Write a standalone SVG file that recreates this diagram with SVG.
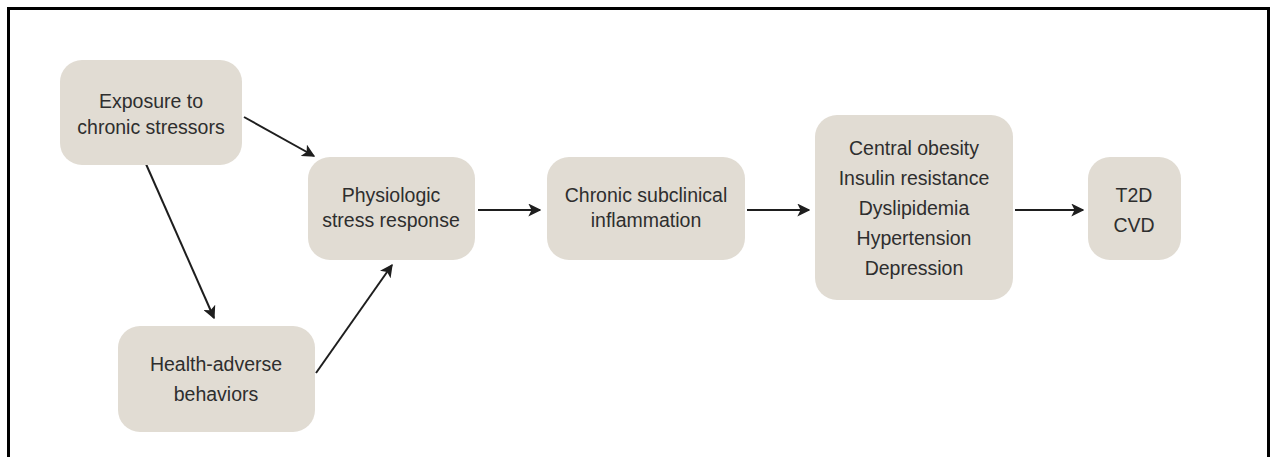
<svg xmlns="http://www.w3.org/2000/svg" width="1272" height="457" viewBox="0 0 1272 457">
<defs>
<style>
.node{fill:#e1dcd3;}
.lbl{font-family:"Liberation Sans",Arial,sans-serif;font-size:19.5px;fill:#2e2e2e;text-anchor:middle;}
.conn{stroke:#1e1e1e;stroke-width:2;fill:none;marker-end:url(#ah);}
</style>
<marker id="ah" viewBox="0 0 10 10" refX="9" refY="5" markerWidth="6.5" markerHeight="6.5" markerUnits="strokeWidth" orient="auto">
<path d="M0,0 L10,5 L0,10 L2.5,5 Z" fill="#1e1e1e"/>
</marker>
</defs>
<rect x="0" y="0" width="1272" height="457" fill="#ffffff"/>
<path d="M8.5,470 L8.5,8.5 L1268.5,8.5 L1268.5,470" fill="none" stroke="#000" stroke-width="3"/>
<g id="connectors">
<line class="conn" x1="244" y1="117" x2="314" y2="156"/>
<line class="conn" x1="146" y1="164" x2="214" y2="318"/>
<line class="conn" x1="316" y1="373" x2="392" y2="265"/>
<line class="conn" x1="478" y1="210" x2="540" y2="210"/>
<line class="conn" x1="747" y1="210" x2="809" y2="210"/>
<line class="conn" x1="1015" y1="210" x2="1083" y2="210"/>
</g>
<g id="n-exposure">
<rect class="node" x="60" y="60" width="182" height="105" rx="22"/>
<text class="lbl" x="151" y="108">Exposure to</text>
<text class="lbl" x="151" y="134">chronic stressors</text>
</g>
<g id="n-health">
<rect class="node" x="118" y="326" width="197" height="106" rx="22"/>
<text class="lbl" x="216" y="371">Health-adverse</text>
<text class="lbl" x="216" y="401">behaviors</text>
</g>
<g id="n-physiologic">
<rect class="node" x="308" y="157" width="167" height="103" rx="22"/>
<text class="lbl" x="391" y="202">Physiologic</text>
<text class="lbl" x="391" y="227">stress response</text>
</g>
<g id="n-inflammation">
<rect class="node" x="547" y="157" width="198" height="103" rx="22"/>
<text class="lbl" x="646" y="202">Chronic subclinical</text>
<text class="lbl" x="646" y="227">inflammation</text>
</g>
<g id="n-metabolic">
<rect class="node" x="815" y="115" width="198" height="185" rx="22"/>
<text class="lbl" x="914" y="155">Central obesity</text>
<text class="lbl" x="914" y="185">Insulin resistance</text>
<text class="lbl" x="914" y="215">Dyslipidemia</text>
<text class="lbl" x="914" y="245">Hypertension</text>
<text class="lbl" x="914" y="275">Depression</text>
</g>
<g id="n-outcome">
<rect class="node" x="1088" y="157" width="93" height="103" rx="22"/>
<text class="lbl" x="1134" y="202">T2D</text>
<text class="lbl" x="1134" y="232">CVD</text>
</g>
</svg>
